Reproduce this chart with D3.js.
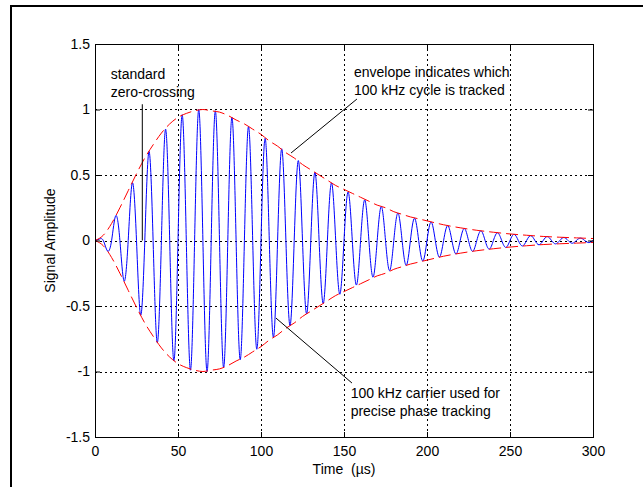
<!DOCTYPE html>
<html lang="en">
<head>
    <meta charset="UTF-8">
    <title>Loran pulse</title>
    <script src="https://cdn.jsdelivr.net/npm/d3@7"></script>
    <style>
        body { margin: 0; background: #fff; }
        text { font-family: "Liberation Sans", Arial, sans-serif; font-size: 14px; fill: #000; }
    </style>
</head>
<body>
    <svg id="svg" width="643" height="487"></svg>
    <script>
        // tick labels
        const xTicks = [0, 50, 100, 150, 200, 250, 300]
        const yTicks = [-1.5, -1, -0.5, 0, 0.5, 1, 1.5]

        // red envelope (time in us, amplitude)
        const envTime = [0, 5, 10, 15, 20, 25, 30, 35, 40, 45, 50, 55, 60, 65, 70, 75, 80, 85, 90, 95,
            100, 105, 110, 115, 120, 125, 130, 135, 140, 145, 150, 155, 160, 165, 170, 175, 180, 185, 190, 195,
            200, 210, 220, 230, 240, 250, 260, 270, 280, 290, 300]
        const envAmp = [0, 0.04, 0.13, 0.25, 0.38, 0.51, 0.63, 0.73, 0.82, 0.89, 0.94, 0.97, 0.99, 1.0, 0.99, 0.98, 0.955, 0.92, 0.89, 0.85,
            0.81, 0.76, 0.72, 0.67, 0.63, 0.58, 0.54, 0.50, 0.46, 0.42, 0.39, 0.36, 0.33, 0.30, 0.27, 0.25, 0.22, 0.20, 0.18, 0.165,
            0.15, 0.12, 0.097, 0.078, 0.063, 0.05, 0.04, 0.031, 0.025, 0.02, 0.015]

        // blue 100 kHz carrier: one peak every half cycle (5 us), starting at 2.5 us
        const carrierPeaks = [0.01, -0.08, 0.19, -0.31, 0.44, -0.57, 0.68, -0.78, 0.85, -0.92,
            0.96, -0.99, 1.0, -1.0, 0.99, -0.97, 0.94, -0.91, 0.87, -0.83,
            0.78, -0.74, 0.70, -0.65, 0.61, -0.56, 0.52, -0.48, 0.44, -0.41,
            0.37, -0.34, 0.31, -0.28, 0.26, -0.23, 0.21, -0.19, 0.17, -0.157,
            0.141, -0.127, 0.114, -0.103, 0.092, -0.083, 0.074, -0.066, 0.059, -0.053,
            0.047, -0.042, 0.037, -0.033, 0.030, -0.026, 0.023, -0.021, 0.018, -0.016]

        // annotations: text lines and leader line ends (time, amplitude)
        const notes = [
            {lines: ["standard", "zero-crossing"], at: [9.5, 1.23], from: [28.5, 1.04], to: [28.5, 0]},
            {lines: ["envelope indicates which", "100 kHz cycle is tracked"], at: [156, 1.25], from: [157.8, 1.08], to: [118.1, 0.668]},
            {lines: ["100 kHz carrier used for", "precise phase tracking"], at: [154, -1.2], from: [154.8, -1.088], to: [109, -0.592]}
        ]

        const svg = d3.select("#svg")
        const width = +svg.attr("width"), height = +svg.attr("height")
        const margin = {top: 44, right: 50, bottom: 50, left: 95}
        const innerWidth = width - margin.left - margin.right
        const innerHeight = height - margin.top - margin.bottom

        svg.append("rect").attr("width", width).attr("height", height).attr("fill", "#fff")
        // figure frame (top and left edges visible)
        svg.append("path").attr("d", `M11,${height}V6H${width}`)
            .attr("fill", "none").attr("stroke", "#000").attr("stroke-width", 2)

        const g = svg.append("g").attr("transform", `translate(${margin.left}, ${margin.top})`)

        const xScale = d3.scaleLinear().domain([0, 300]).range([0, innerWidth])
        const yScale = d3.scaleLinear().domain([-1.5, 1.5]).range([innerHeight, 0])

        // dotted grid
        const grid = g.append("g").attr("stroke", "#000").attr("stroke-dasharray", "2,3").attr("stroke-width", 1)
        grid.selectAll(".gx").data(xTicks.slice(1, -1)).join("line")
            .attr("x1", d => Math.round(xScale(d)) + 0.5).attr("x2", d => Math.round(xScale(d)) + 0.5)
            .attr("y1", 0).attr("y2", innerHeight)
        grid.selectAll(".gy").data(yTicks.slice(1, -1)).join("line")
            .attr("y1", d => Math.round(yScale(d)) + 0.5).attr("y2", d => Math.round(yScale(d)) + 0.5)
            .attr("x1", 0).attr("x2", innerWidth)

        // carrier: zero at every 5 us, peak in between
        const carrier = [[0, 0]]
        carrierPeaks.forEach((v, i) => {
            carrier.push([5 * i + 2.5, v])
            carrier.push([5 * i + 5, 0])
        })
        const line = d3.line().x(d => xScale(d[0])).y(d => yScale(d[1])).curve(d3.curveNatural)
        g.append("path").datum(carrier).attr("d", line)
            .attr("fill", "none").attr("stroke", "#0000ff").attr("stroke-width", 1)

        // envelope, upper and lower
        const envLine = d3.line().x(d => xScale(d[0])).y(d => yScale(d[1])).curve(d3.curveMonotoneX)
        const upper = envTime.map((t, i) => [t, envAmp[i]])
        const lower = envTime.map((t, i) => [t, -envAmp[i]])
        g.selectAll(".env").data([upper, lower]).join("path")
            .attr("class", "env").attr("d", envLine)
            .attr("fill", "none").attr("stroke", "#ff0000").attr("stroke-width", 1)
            .attr("stroke-dasharray", "12,5")

        // axes with inward ticks on all four sides
        const styleAxis = sel => {
            sel.attr("font-family", null).attr("font-size", null)
            sel.select(".domain").remove()
            sel.selectAll("line").attr("stroke", "#000")
        }
        const noLabels = sel => sel.selectAll("text").remove()
        const plain = d => String(d)
        g.append("g").attr("transform", `translate(0, ${innerHeight})`)
            .call(d3.axisBottom(xScale).tickValues(xTicks).tickSize(-5).tickSizeOuter(0).tickPadding(9).tickFormat(plain))
            .call(styleAxis)
        g.append("g")
            .call(d3.axisTop(xScale).tickValues(xTicks).tickSize(-5).tickSizeOuter(0))
            .call(styleAxis).call(noLabels)
        g.append("g")
            .call(d3.axisLeft(yScale).tickValues(yTicks).tickSize(-5).tickSizeOuter(0).tickPadding(5).tickFormat(plain))
            .call(styleAxis)
        g.append("g").attr("transform", `translate(${innerWidth}, 0)`)
            .call(d3.axisRight(yScale).tickValues(yTicks).tickSize(-5).tickSizeOuter(0))
            .call(styleAxis).call(noLabels)

        g.append("rect").attr("x", 0.5).attr("y", 0.5).attr("width", innerWidth).attr("height", innerHeight)
            .attr("fill", "none").attr("stroke", "#000").attr("stroke-width", 1)

        // axis titles
        g.append("text").attr("x", innerWidth / 2).attr("y", innerHeight + 37)
            .attr("text-anchor", "middle").style("white-space", "pre").text("Time  (\u00b5s)")
        g.append("text").attr("transform", `translate(${50 - margin.left}, ${innerHeight / 2}) rotate(-90)`)
            .attr("text-anchor", "middle").attr("dy", "0.35em").text("Signal Amplitude")

        // annotations
        notes.forEach(n => {
            g.append("line")
                .attr("x1", xScale(n.from[0])).attr("y1", yScale(n.from[1]))
                .attr("x2", xScale(n.to[0])).attr("y2", yScale(n.to[1]))
                .attr("stroke", "#000").attr("stroke-width", 1)
            g.append("text").selectAll("tspan").data(n.lines).join("tspan")
                .attr("x", xScale(n.at[0])).attr("y", (d, i) => yScale(n.at[1]) + i * 18)
                .text(d => d)
        })
    </script>
</body>
</html>
